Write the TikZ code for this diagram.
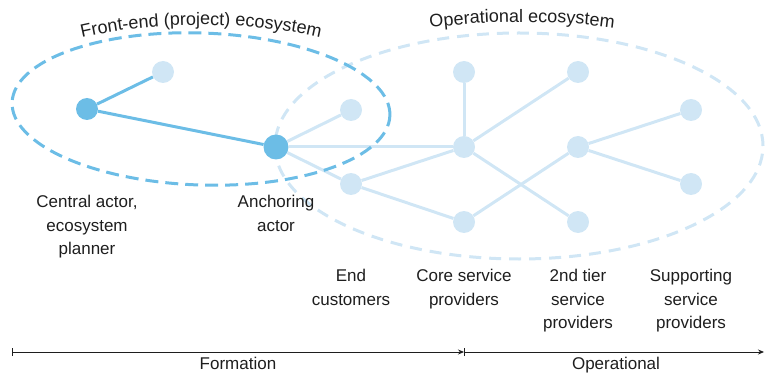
\documentclass[tikz,border=0pt]{standalone}
\usepackage{fontspec}
\setmainfont{Liberation Sans}
\usetikzlibrary{decorations.text,arrows.meta}
\definecolor{darkb}{RGB}{108,189,230}
\definecolor{lightb}{RGB}{208,230,245}
\definecolor{txt}{RGB}{30,30,30}
\newcommand\lblfont{\fontsize{17}{23.5}\selectfont}
\newcommand\toplblfont{\fontsize{18}{20}\selectfont}
\begin{document}
\begin{tikzpicture}[x=1pt,y=1pt,
  dk/.style={circle,fill=darkb,minimum size=22pt,inner sep=0pt},
  lt/.style={circle,fill=lightb,minimum size=22pt,inner sep=0pt},
  dkedge/.style={draw=darkb,line width=3pt},
  ltedge/.style={draw=lightb,line width=3pt},
  lbl/.style={align=center,font=\lblfont,anchor=north,inner sep=0pt,text=txt},
  axislbl/.style={font=\lblfont,anchor=base,inner sep=0pt,text=txt},
  axisline/.style={draw=txt,line width=0.8pt},
  ]
\useasboundingbox (0,0) rectangle (765,-374);

% operational ecosystem ellipse
\draw[lightb,line width=3pt,dash pattern=on 12pt off 8pt] (519,-146) ellipse [x radius=244,y radius=113];

% nodes
\node[dk] (ca) at (87,-109) {};
\node[lt] (t1) at (163,-72) {};
\node[dk,minimum size=25pt] (an) at (276,-147) {};
\node[lt] (e1) at (351,-110) {};
\node[lt] (e2) at (351,-184) {};
\node[lt] (ct) at (464,-72) {};
\node[lt] (cm) at (464,-147) {};
\node[lt] (cb) at (464,-222) {};
\node[lt] (tt) at (578,-72) {};
\node[lt] (tm) at (578,-147) {};
\node[lt] (tb) at (578,-222) {};
\node[lt] (st) at (691,-110) {};
\node[lt] (sb) at (691,-184) {};

% edges
\draw[dkedge] (ca) -- (t1);
\draw[dkedge] (ca) -- (an);
\draw[ltedge] (an) -- (e1);
\draw[ltedge] (an) -- (cm);
\draw[ltedge] (an) -- (e2);
\draw[ltedge] (e2) -- (cm);
\draw[ltedge] (e2) -- (cb);
\draw[ltedge] (ct) -- (cm);
\draw[ltedge] (cm) -- (tt);
\draw[ltedge] (cm) -- (tb);
\draw[ltedge] (cb) -- (tm);
\draw[ltedge] (tm) -- (st);
\draw[ltedge] (tm) -- (sb);

% front-end ecosystem ellipse
\draw[darkb,line width=3pt,dash pattern=on 13pt off 7pt,rotate around={-2:(201,-109)}] (201,-109) ellipse [x radius=189,y radius=76];

% curved titles
\path[decorate,decoration={text along path,text align=center,text color=txt,
   text={|\toplblfont|Front-end (project) ecosystem}}]
   (201,-109) ++(150:225 and 84) arc[start angle=150,end angle=30,x radius=225,y radius=84];
\path[decorate,decoration={text along path,text align=center,text color=txt,
   text={|\toplblfont|Operational ecosystem}}]
   (522,-146) ++(120:299 and 124) arc[start angle=120,end angle=60,x radius=299,y radius=124];

% labels
\node[lbl] (lca) at (87,-195) {Central actor,\\ecosystem\\planner};
\node[lbl] (lan) at (276,-195) {Anchoring\\actor};
\node[lbl] (lec) at (351,-269) {End\\customers};
\node[lbl] (lcs) at (464,-269) {Core service\\providers};
\node[lbl] (lts) at (578,-269) {2nd tier\\service\\providers};
\node[lbl] (lss) at (691,-269) {Supporting\\service\\providers};

% time axis
\coordinate (a0) at (12,-352);
\coordinate (a1) at (464,-352);
\coordinate (a2) at (764,-352);
\draw[axisline,{Bar[width=8pt]}-{Stealth[length=6pt,width=5pt]}] (a0) -- (a1);
\draw[axisline,{Bar[width=8pt]}-{Stealth[length=6pt,width=5pt]}] (a1) -- (a2);
\node[axislbl] (lf) at (238,-369.5) {Formation};
\node[axislbl] (lo) at (616,-369.5) {Operational};
\end{tikzpicture}
\end{document}
